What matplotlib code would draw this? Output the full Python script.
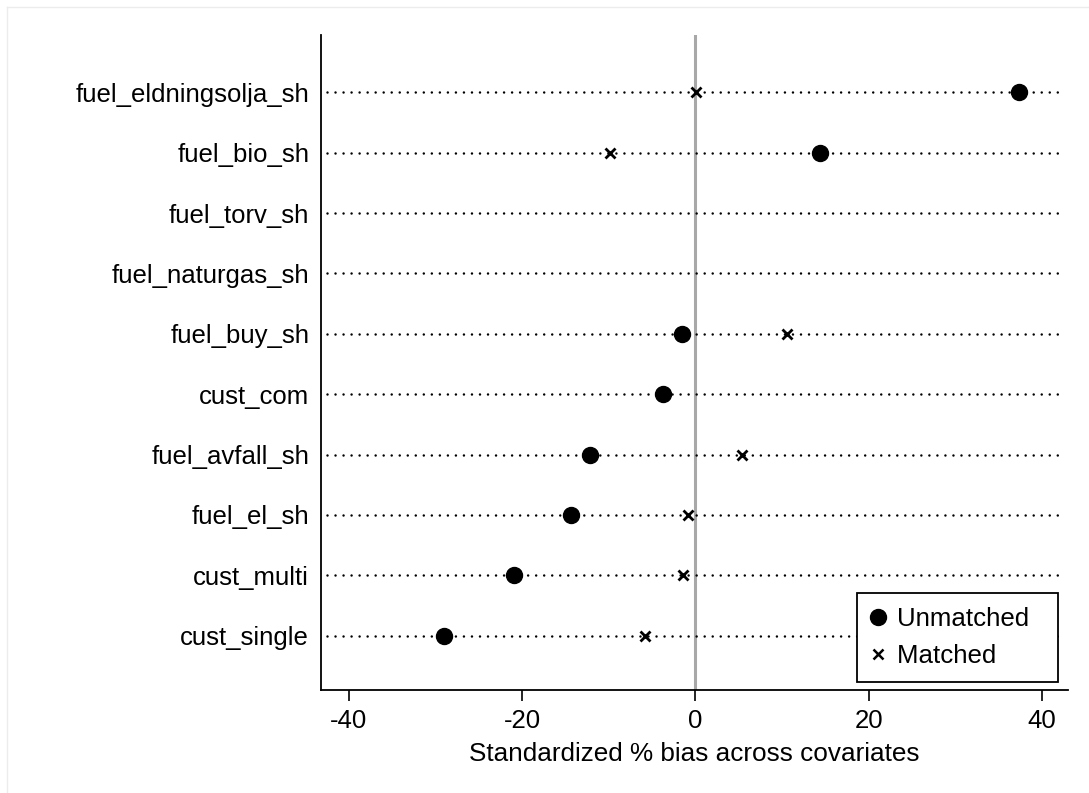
import matplotlib

matplotlib.use("Agg")

import matplotlib.pyplot as plt
from matplotlib import font_manager
from matplotlib.font_manager import FontProperties
from matplotlib.lines import Line2D

covariates = [
    "fuel_eldningsolja_sh",
    "fuel_bio_sh",
    "fuel_torv_sh",
    "fuel_naturgas_sh",
    "fuel_buy_sh",
    "cust_com",
    "fuel_avfall_sh",
    "fuel_el_sh",
    "cust_multi",
    "cust_single",
]
unmatched = [37.4, 14.4, None, None, -1.5, -3.7, -12.2, -14.3, -20.9, -29.0]
matched = [0.1, -9.8, None, None, 10.6, -3.7, 5.4, -0.8, -1.4, -5.8]
x_ticks = [-40, -20, 0, 20, 40]
legend_labels = ["Unmatched", "Matched"]


def _font_file(stem: str) -> str | None:
    for f in font_manager.fontManager.ttflist:
        if f.fname.split("/")[-1].lower().startswith(stem.lower()):
            return f.fname
    return None


def regular(size: float) -> FontProperties:
    path = _font_file("LiberationSans-Regular")
    if path:
        return FontProperties(fname=path, size=size)
    return FontProperties(family="Liberation Sans", size=size)


W, H = 1089, 793
fig = plt.figure(figsize=(W / 100, H / 100), dpi=100)
fig.patch.set_facecolor("white")
ax = fig.add_axes([321 / W, 1 - 690 / H, (1068 - 321) / W, (690 - 35) / H])

# faint frame at top/left like the screenshot
fig.add_artist(Line2D([7 / W, 1], [1 - 7 / H, 1 - 7 / H], color="#ececec", lw=1))
fig.add_artist(Line2D([7 / W, 7 / W], [0, 1 - 7 / H], color="#ececec", lw=1))

n = len(covariates)
ypos = list(range(n, 0, -1))

ax.axvline(0, color="#a8a8a8", lw=2.2, zorder=1)
for y in ypos:
    ax.axhline(y, xmin=0.008, xmax=0.992, color="black", lw=1.8,
               linestyle=(0, (0.01, 3.2)), dash_capstyle="round", zorder=2)

ux = [v for v in unmatched if v is not None]
uy = [y for v, y in zip(unmatched, ypos) if v is not None]
mx = [v for v in matched if v is not None]
my = [y for v, y in zip(matched, ypos) if v is not None]

ax.plot(mx, my, "x", color="black", ms=6.5, mew=2, zorder=3)
ax.plot(ux, uy, "o", color="black", ms=11.5, zorder=4)

ax.set_xlim(-43.2, 43.0)
ax.set_ylim(0.1, n + 0.95)
ax.set_yticks(ypos)
ax.set_yticklabels(covariates, fontproperties=regular(18.5))
ax.tick_params(axis="y", length=0, pad=8.5)
ax.set_xticks(x_ticks)
ax.set_xticklabels([str(t) for t in x_ticks], fontproperties=regular(18.5))
ax.tick_params(axis="x", length=8, width=1.2, pad=6)
ax.set_xlabel("Standardized % bias across covariates", fontproperties=regular(18.8), labelpad=6)

for side in ["top", "right"]:
    ax.spines[side].set_visible(False)
for side in ["left", "bottom"]:
    ax.spines[side].set_linewidth(1.3)

handles = [
    Line2D([], [], marker="o", color="black", ls="none", ms=11.5),
    Line2D([], [], marker="x", color="black", ls="none", ms=6.5, mew=1.8),
]
# trailing spaces give the wider right margin of the original box
leg = ax.legend(handles, [lab + "  " for lab in legend_labels], loc="lower right",
                bbox_to_anchor=(1058 / W, 1 - 682 / H), bbox_transform=fig.transFigure,
                borderaxespad=0, fancybox=False, framealpha=1, edgecolor="black",
                prop=regular(18.6),
                handletextpad=0.5, borderpad=0.55, labelspacing=0.5, handlelength=0.5)
leg.get_frame().set_linewidth(1.3)

fig.savefig("out.png", dpi=100)
